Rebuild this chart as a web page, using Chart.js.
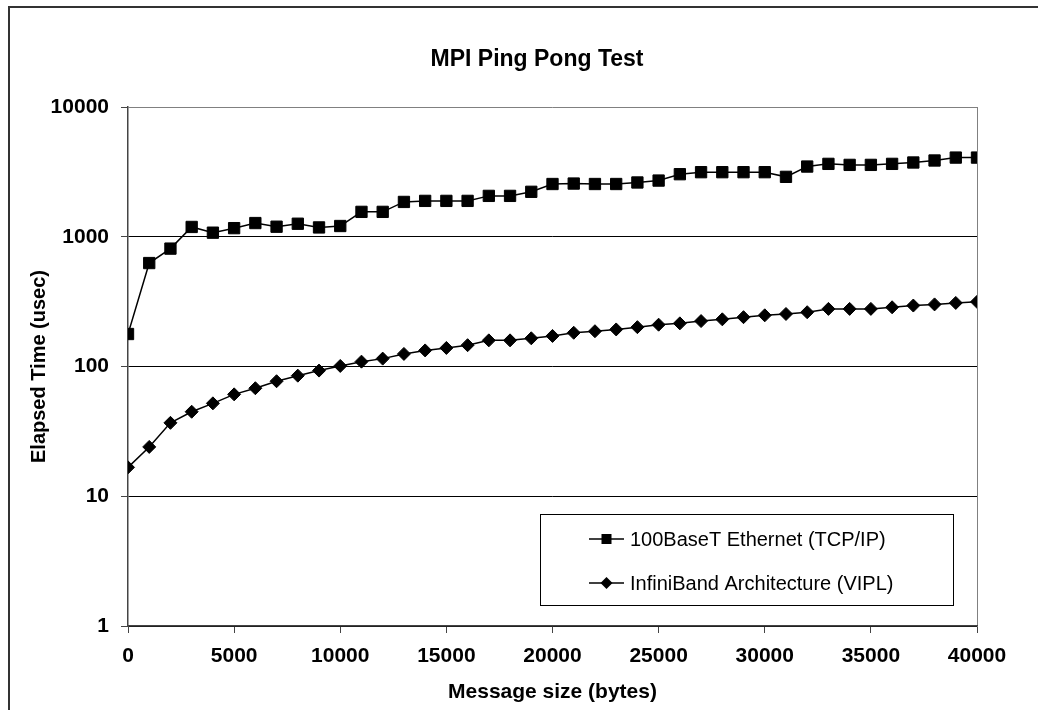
<!DOCTYPE html>
<html>
<head>
<meta charset="utf-8">
<script src="https://cdn.jsdelivr.net/npm/chart.js@4/dist/chart.umd.min.js"></script>
<style>
  html, body { margin: 0; padding: 0; background: #fff; }
  #wrap { position: relative; width: 1038px; height: 710px; overflow: hidden; background: #fff; }
  #frame { position: absolute; left: 8px; top: 6px; width: 1100px; height: 800px;
           border-left: 2px solid #333; border-top: 2px solid #333; }
  #c { position: absolute; left: 0; top: 0; }
</style>
</head>
<body>
<div id="wrap">
  <div id="frame"></div>
  <canvas id="c" width="1038" height="710"></canvas>
</div>
<script>
// ---- Data ----
const messageSizes = [0, 1000, 2000, 3000, 4000, 5000, 6000, 7000, 8000, 9000, 10000,
  11000, 12000, 13000, 14000, 15000, 16000, 17000, 18000, 19000, 20000,
  21000, 22000, 23000, 24000, 25000, 26000, 27000, 28000, 29000, 30000,
  31000, 32000, 33000, 34000, 35000, 36000, 37000, 38000, 39000, 40000];

const ethernetTimes = [178, 627, 810, 1190, 1075, 1165, 1275, 1195, 1260, 1180, 1210,
  1555, 1555, 1855, 1890, 1890, 1890, 2065, 2065, 2220, 2550,
  2570, 2550, 2550, 2620, 2710, 3035, 3145, 3145, 3145, 3145,
  2895, 3475, 3645, 3580, 3580, 3645, 3735, 3870, 4075, 4075];

const infinibandTimes = [16.7, 24, 36.8, 44.8, 52, 61, 68, 77, 85, 93, 101,
  109, 115, 125, 133, 139, 146, 159, 159, 165, 172,
  182, 187, 193, 201, 210, 215, 224, 231, 240, 248,
  254, 262, 278, 278, 278, 286, 295, 301, 309, 315];

const seriesNames = ['100BaseT Ethernet (TCP/IP)', 'InfiniBand Architecture (VIPL)'];
const xTickValues = [0, 5000, 10000, 15000, 20000, 25000, 30000, 35000, 40000];
const yTickValues = [1, 10, 100, 1000, 10000];

const chartTitle = 'MPI Ping Pong Test';
const xTitle = 'Message size (bytes)';
const yTitle = 'Elapsed Time (usec)';

// ---- Build ----
const FONT = "'Liberation Sans', Arial, Helvetica, sans-serif";

function toPoints(xs, ys) { return xs.map((x, i) => ({ x: x, y: ys[i] })); }

const legendPlugin = {
  id: 'boxLegend',
  afterDraw(chart) {
    const ctx = chart.ctx;
    const a = chart.chartArea;
    const left = a.right - 24, right = a.right - 24 + 0; // box right edge
    const bx = a.right - 437, by = a.bottom - 112, bw = 413, bh = 91;
    ctx.save();
    ctx.fillStyle = '#fff';
    ctx.fillRect(bx, by, bw, bh);
    ctx.strokeStyle = '#000';
    ctx.lineWidth = 1;
    ctx.strokeRect(bx + 0.5, by + 0.5, bw, bh);
    chart.data.datasets.forEach((ds, i) => {
      const y = by + 25 + i * 44;
      ctx.strokeStyle = '#000';
      ctx.lineWidth = 1.5;
      ctx.beginPath();
      ctx.moveTo(bx + 49, y);
      ctx.lineTo(bx + 84, y);
      ctx.stroke();
      const cx = bx + 66.5;
      ctx.fillStyle = '#000';
      if (ds.pointStyle === 'rect') {
        ctx.fillRect(cx - 5, y - 5, 10, 10);
      } else {
        ctx.beginPath();
        ctx.moveTo(cx, y - 6);
        ctx.lineTo(cx + 6, y);
        ctx.lineTo(cx, y + 6);
        ctx.lineTo(cx - 6, y);
        ctx.closePath();
        ctx.fill();
      }
      ctx.font = '20px ' + FONT;
      ctx.textBaseline = 'middle';
      ctx.textAlign = 'left';
      ctx.fillText(ds.label, bx + 90, y + 1);
    });
    ctx.restore();
  }
};

new Chart(document.getElementById('c'), {
  type: 'line',
  data: {
    datasets: [
      {
        label: seriesNames[0],
        data: toPoints(messageSizes, ethernetTimes),
        borderColor: '#000',
        backgroundColor: '#000',
        borderWidth: 1.5,
        pointStyle: 'rect',
        pointRadius: 8,
        pointBorderWidth: 1,
        pointBackgroundColor: '#000',
        pointBorderColor: '#000',
        tension: 0
      },
      {
        label: seriesNames[1],
        data: toPoints(messageSizes, infinibandTimes),
        borderColor: '#000',
        backgroundColor: '#000',
        borderWidth: 1.5,
        pointStyle: 'rectRot',
        pointRadius: 6.5,
        pointBorderWidth: 1,
        pointBackgroundColor: '#000',
        pointBorderColor: '#000',
        tension: 0
      }
    ]
  },
  options: {
    responsive: false,
    animation: false,
    devicePixelRatio: 1,
    layout: { padding: { left: 36, right: 0, top: 0, bottom: 0 } },
    plugins: {
      legend: { display: false },
      tooltip: { enabled: false },
      title: {
        display: true,
        text: chartTitle,
        color: '#000',
        font: { family: FONT, size: 23, weight: 'bold' },
        padding: { top: 46, bottom: 33.4 }
      }
    },
    scales: {
      x: {
        type: 'linear',
        min: 0,
        max: 40000,
        afterBuildTicks: s => { s.ticks = xTickValues.map(v => ({ value: v })); },
        afterFit: s => { s.height = 84; },
        ticks: {
          color: '#000',
          font: { family: FONT, size: 21, weight: 'bold' },
          padding: 11,
          maxRotation: 0,
          autoSkip: false,
          callback: v => String(v)
        },
        grid: {
          drawOnChartArea: true,
          color: c => (c.tick && c.tick.value === 40000) ? '#808080' : 'rgba(0,0,0,0)',
          tickColor: '#444',
          tickLength: 7,
          lineWidth: 1
        },
        border: { display: true, color: '#444', width: 1.5 },
        title: {
          display: true,
          text: xTitle,
          color: '#000',
          font: { family: FONT, size: 21, weight: 'bold' },
          padding: { top: 0, bottom: 5 }
        }
      },
      y: {
        type: 'logarithmic',
        min: 1,
        max: 10000,
        afterBuildTicks: s => { s.ticks = yTickValues.map(v => ({ value: v })); },
        afterFit: s => { s.width = 92; },
        ticks: {
          color: '#000',
          font: { family: FONT, size: 21, weight: 'bold' },
          padding: 12,
          autoSkip: false,
          callback: v => String(v)
        },
        grid: {
          color: c => (c.tick && c.tick.value === 10000) ? '#808080' : '#000',
          tickColor: '#444',
          tickLength: 7,
          lineWidth: 1
        },
        border: { display: true, color: '#444', width: 1.5 },
        title: {
          display: true,
          text: yTitle,
          color: '#000',
          font: { family: FONT, size: 20, weight: 'bold' },
          padding: { top: -9, bottom: 0 }
        }
      },
      yPad: {
        type: 'linear',
        position: 'right',
        display: true,
        min: 0,
        max: 1,
        afterFit: s => { s.width = 61; },
        grid: { display: false },
        border: { display: false },
        ticks: { display: false }
      }
    }
  },
  plugins: [legendPlugin]
});
</script>
</body>
</html>
